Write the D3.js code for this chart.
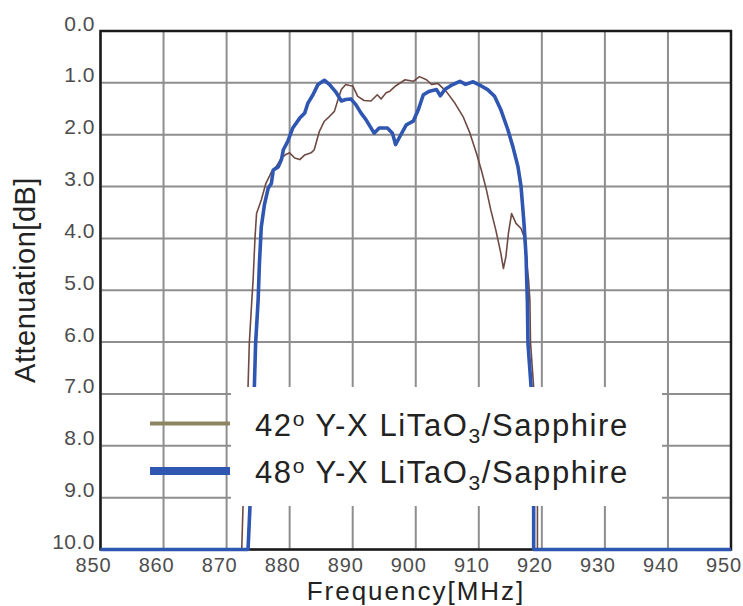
<!DOCTYPE html>
<html>
<head>
<meta charset="utf-8">
<script src="https://cdn.jsdelivr.net/npm/d3@7"></script>
<style>
  html, body { margin: 0; padding: 0; background: #fff; }
  svg { display: block; }
</style>
</head>
<body>
<svg id="chart" width="743" height="606"></svg>
<script>
// ---- data ----
const xTicks = [850, 860, 870, 880, 890, 900, 910, 920, 930, 940, 950];
const yTicks = [0, 1, 2, 3, 4, 5, 6, 7, 8, 9, 10];
const yTickLabels = ["0.0","1.0","2.0","3.0","4.0","5.0","6.0","7.0","8.0","9.0","10.0"];

const seriesNames = ["42", "48"];

// 42° Y-X LiTaO3/Sapphire
const freq42 = [850, 872.4, 872.6, 873.0, 873.4, 873.6, 874.0, 874.2, 874.5, 874.75, 875.5, 876.2, 876.8, 877.1, 877.9,
  878.7, 879.4, 880.0, 880.8, 881.6, 882.4, 883.4, 883.9, 884.7, 885.5, 886.3, 887.1, 887.6, 888.2, 888.9,
  889.5, 890.0, 890.8, 891.8, 892.9, 893.9, 894.5, 895.3, 895.9, 896.8, 898.3, 899.6, 900.6, 901.7, 902.5,
  903.5, 904.8, 906.2, 907.5, 908.5, 909.6, 910.4, 911.2, 911.9, 912.7, 913.5, 913.9, 914.3, 914.7, 915.2,
  915.9, 916.7, 917.2, 917.5, 917.9, 918.1, 918.2, 918.7, 919.0, 919.3, 919.3, 950];
const att42 = [10, 10, 9.19, 8.0, 6.87, 6.03, 5.19, 4.81, 4.0, 3.52, 3.26, 2.95, 2.8, 2.72, 2.61,
  2.45, 2.38, 2.35, 2.45, 2.48, 2.39, 2.35, 2.29, 1.94, 1.74, 1.65, 1.55, 1.35, 1.13, 1.03,
  1.05, 1.06, 1.26, 1.34, 1.35, 1.23, 1.31, 1.19, 1.16, 1.06, 0.94, 0.97, 0.88, 0.94, 1.03,
  1.01, 1.16, 1.39, 1.65, 1.94, 2.35, 2.68, 3.06, 3.45, 3.84, 4.29, 4.58, 4.35, 3.90, 3.52,
  3.71, 3.81, 3.97, 4.35, 4.81, 5.19, 6.0, 6.87, 8.0, 9.19, 10, 10];

// 48° Y-X LiTaO3/Sapphire
const freq48 = [850, 873.4, 873.7, 874.0, 874.4, 874.6, 875.0, 875.2, 875.5, 876.0, 876.6, 877.1, 877.4, 878.2, 878.7,
  879.0, 879.7, 880.5, 881.6, 882.4, 882.9, 883.7, 884.5, 885.5, 886.3, 887.4, 888.2, 888.9, 889.7, 890.5,
  891.3, 892.1, 893.4, 894.2, 895.5, 896.3, 896.8, 897.5, 898.5, 899.6, 900.4, 901.2, 902.2, 903.3, 903.9,
  904.6, 905.6, 907.0, 907.9, 909.1, 910.4, 911.4, 912.5, 913.5, 914.6, 915.4, 916.2, 916.7, 917.0, 917.2,
  917.5, 917.6, 917.7, 917.8, 918.3, 918.5, 918.7, 918.7, 950];
const att48 = [10, 10, 9.19, 8.0, 6.87, 6.03, 5.19, 4.5, 3.78, 3.35, 3.03, 2.94, 2.68, 2.62, 2.48,
  2.29, 2.13, 1.87, 1.68, 1.58, 1.39, 1.23, 1.03, 0.95, 1.03, 1.19, 1.35, 1.32, 1.31, 1.42,
  1.58, 1.71, 1.97, 1.87, 1.87, 1.97, 2.19, 2.03, 1.81, 1.74, 1.52, 1.23, 1.16, 1.13, 1.25,
  1.13, 1.05, 0.97, 1.03, 0.98, 1.06, 1.13, 1.26, 1.52, 1.90, 2.23, 2.61, 3.0, 3.45, 3.77,
  4.35, 4.81, 5.19, 6.03, 6.87, 8.0, 9.19, 10, 10];

// ---- layout ----
const svg = d3.select("#chart");
const pLeft = 100.5, pRight = 731, pTop = 31, pBottom = 549.5;
const x = d3.scaleLinear().domain([850, 950]).range([pLeft, pRight]);
const y = d3.scaleLinear().domain([0, 10]).range([pTop, pBottom]);

const fontMain = "Liberation Sans, Arial, Helvetica, sans-serif";

// grid
const grid = svg.append("g");
grid.selectAll("line.v").data(xTicks).enter().append("line")
  .attr("x1", d => x(d)).attr("x2", d => x(d))
  .attr("y1", pTop).attr("y2", pBottom)
  .attr("stroke", "#8e8e8e").attr("stroke-width", 2);
grid.selectAll("line.h").data(yTicks).enter().append("line")
  .attr("x1", pLeft).attr("x2", pRight)
  .attr("y1", d => y(d)).attr("y2", d => y(d))
  .attr("stroke", "#8e8e8e").attr("stroke-width", 2);

// frame
svg.append("rect").attr("x", pLeft).attr("y", pTop)
  .attr("width", pRight - pLeft).attr("height", pBottom - pTop)
  .attr("fill", "none").attr("stroke", "#1a1a1a").attr("stroke-width", 2.5);

// axes (labels only) via d3 axis
const xAxis = d3.axisBottom(x).tickValues(xTicks).tickSize(0).tickPadding(0);
const gx = svg.append("g").attr("transform", `translate(-7.5,${pBottom})`).call(xAxis);
gx.select(".domain").remove();
gx.selectAll("text").attr("dy", null).attr("y", 22.5)
  .attr("font-family", fontMain).attr("font-size", 20).attr("fill", "#4d4d4d")
  .attr("letter-spacing", 0.8);

const yAxis = d3.axisLeft(y).tickValues(yTicks).tickFormat((d, i) => yTickLabels[i]).tickSize(0).tickPadding(0);
const gy = svg.append("g").attr("transform", `translate(95,0)`).call(yAxis);
gy.select(".domain").remove();
gy.selectAll("text").attr("dy", null).attr("y", -1)
  .attr("font-family", fontMain).attr("font-size", 21).attr("fill", "#4d4d4d")
  .attr("letter-spacing", 0.5);

// curves
const line = d3.line().x(d => x(d[0])).y(d => y(d[1]));
const pts42 = freq42.map((f, i) => [f, att42[i]]);
const pts48 = freq48.map((f, i) => [f, att48[i]]);

svg.append("path").datum(pts42).attr("d", line)
  .attr("fill", "none").attr("stroke", "#6f4a43").attr("stroke-width", 1.6)
  .attr("stroke-linejoin", "round");
svg.append("path").datum(pts48).attr("d", line)
  .attr("fill", "none").attr("stroke", "#2f56b0").attr("stroke-width", 3.6)
  .attr("stroke-linejoin", "round");

// legend
svg.append("rect").attr("x", 231).attr("y", 387).attr("width", 431).attr("height", 119).attr("fill", "#fff");
const legendItems = [
  { name: seriesNames[0], color: "#8b8560", width: 4, yy: 423.5 },
  { name: seriesNames[1], color: "#2f56b0", width: 8, yy: 471 }
];
legendItems.forEach(it => {
  svg.append("line").attr("x1", 150).attr("x2", 230).attr("y1", it.yy).attr("y2", it.yy)
    .attr("stroke", it.color).attr("stroke-width", it.width);
  const t = svg.append("text").attr("x", 255).attr("y", it.yy + 12)
    .attr("font-family", fontMain).attr("font-size", 31).attr("fill", "#222")
    .attr("letter-spacing", 1.6);
  t.append("tspan").text(it.name);
  t.append("tspan").attr("font-size", 21).attr("dy", -10).text("o");
  t.append("tspan").attr("dy", 10).text(" Y-X LiTaO");
  t.append("tspan").attr("font-size", 21).attr("dy", 7).text("3");
  t.append("tspan").attr("dy", -7).text("/Sapphire");
});

// axis titles
svg.append("text").attr("x", 416).attr("y", 600).attr("text-anchor", "middle")
  .attr("font-family", fontMain).attr("font-size", 26).attr("fill", "#222")
  .attr("letter-spacing", 2)
  .text("Frequency[MHz]");
svg.append("text").attr("transform", "translate(35,280) rotate(-90)").attr("text-anchor", "middle")
  .attr("font-family", fontMain).attr("font-size", 29).attr("fill", "#222")
  .attr("letter-spacing", 0.5)
  .text("Attenuation[dB]");
</script>
</body>
</html>
